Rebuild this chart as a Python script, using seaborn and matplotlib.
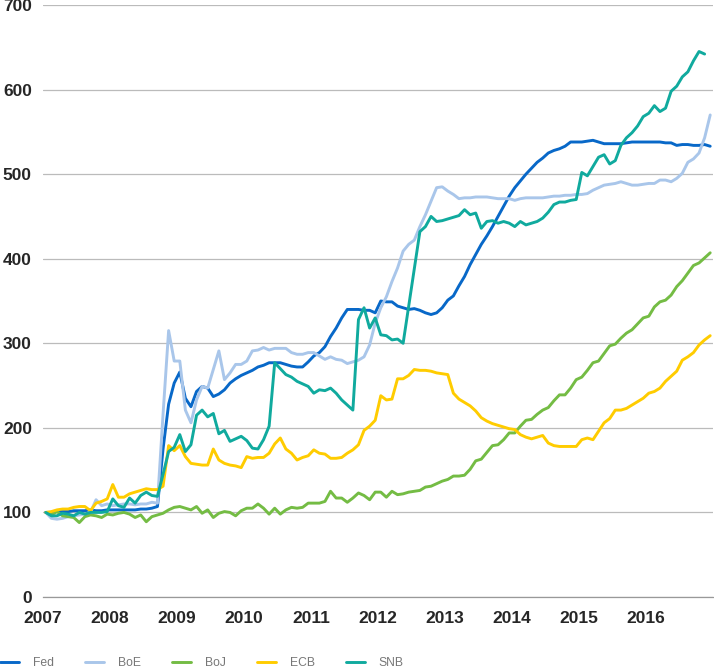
import matplotlib
matplotlib.use("Agg")
import matplotlib.pyplot as plt
import seaborn as sns
import pandas as pd
import numpy as np

# monthly index values, Jan 2007 = 100, one row per year (Jan..Dec)
fed = [100, 100, 101, 101, 101, 102, 102, 102, 103, 102, 102, 103,
       103, 103, 103, 103, 103, 104, 104, 105, 107, 175, 228, 253,
       266, 235, 225, 243, 249, 247, 237, 240, 245, 253, 258, 262,
       265, 268, 272, 274, 277, 277, 277, 275, 273, 272, 272, 278,
       285, 289, 296, 308, 318, 330, 340, 340, 340, 339, 339, 336,
       350, 349, 349, 344, 342, 340, 341, 339, 336, 334, 336, 342,
       351, 356, 368, 379, 393, 405, 417, 427, 438, 450, 462, 474,
       484, 492, 500, 507, 514, 519, 525, 528, 530, 533, 538, 538,
       538, 539, 540, 538, 536, 536, 536, 536, 537, 538, 538, 538,
       538, 538, 538, 537, 537, 534, 535, 535, 534, 534, 535, 533]

boe = [100, 93, 92, 93, 95, 96, 97, 98, 100, 115, 108, 110,
       108, 109, 110, 110, 109, 110, 110, 112, 111, 216, 315, 279,
       279, 221, 206, 233, 249, 247, 269, 291, 257, 265, 275, 275,
       279, 291, 292, 295, 292, 294, 294, 294, 289, 287, 287, 289,
       289, 285, 281, 284, 281, 280, 276, 278, 280, 284, 298, 324,
       342, 355, 373, 389, 409, 417, 422, 438, 452, 468, 484, 485,
       480, 476, 471, 472, 472, 473, 473, 473, 472, 471, 471, 471,
       469, 471, 472, 472, 472, 472, 473, 474, 474, 475, 475, 476,
       476, 477, 481, 484, 487, 488, 489, 491, 489, 487, 487, 488,
       489, 489, 493, 493, 491, 495, 501, 514, 518, 525, 543, 570]

boj = [100, 97, 101, 96, 95, 94, 88, 95, 97, 96, 94, 98,
       97, 99, 100, 98, 94, 97, 89, 95, 97, 99, 103, 106,
       107, 105, 103, 107, 99, 103, 94, 99, 101, 100, 96, 102,
       105, 105, 110, 105, 98, 105, 98, 103, 106, 105, 106, 111,
       111, 111, 113, 125, 117, 117, 112, 117, 123, 120, 115, 124,
       124, 118, 125, 121, 122, 124, 125, 126, 130, 131, 134, 137,
       139, 143, 143, 144, 151, 161, 163, 171, 179, 180, 186, 194,
       194, 202, 209, 210, 216, 221, 224, 232, 239, 239, 247, 257,
       260, 268, 277, 279, 288, 297, 299, 306, 312, 316, 323, 330,
       332, 343, 349, 351, 357, 367, 374, 383, 392, 395, 401, 407]

ecb = [100, 101, 103, 104, 104, 106, 107, 107, 102, 111, 113, 116,
       133, 118, 118, 122, 124, 126, 128, 127, 127, 131, 179, 173,
       179, 166, 158, 157, 156, 156, 175, 162, 158, 156, 155, 153,
       166, 164, 165, 165, 170, 181, 188, 175, 170, 162, 165, 167,
       174, 170, 169, 164, 164, 165, 170, 174, 180, 197, 202, 209,
       238, 233, 234, 258, 258, 262, 269, 268, 268, 267, 265, 264,
       263, 241, 234, 230, 226, 220, 212, 208, 205, 203, 201, 199,
       198, 192, 189, 187, 189, 191, 182, 179, 178, 178, 178, 178,
       186, 188, 186, 196, 206, 211, 221, 221, 223, 227, 231, 235,
       241, 243, 247, 255, 261, 267, 280, 284, 289, 298, 304, 309]

snb = [100, 96, 96, 99, 98, 96, 100, 98, 100, 100, 100, 101,
       116, 108, 106, 117, 111, 120, 124, 120, 119, 145, 172, 177,
       192, 172, 180, 215, 221, 213, 217, 193, 197, 184, 187, 190,
       185, 176, 175, 186, 202, 277, 270, 263, 260, 255, 252, 249,
       241, 245, 244, 247, 241, 233, 227, 221, 328, 342, 318, 330,
       310, 309, 304, 305, 300, 344, 388, 432, 438, 450, 444, 445,
       447, 449, 451, 458, 452, 454, 436, 444, 445, 442, 444, 442,
       438, 444, 440, 442, 444, 448, 455, 464, 467, 467, 469, 470,
       502, 498, 509, 520, 523, 512, 516, 534, 543, 549, 557, 568,
       572, 581, 574, 578, 598, 604, 615, 621, 634, 645, 642, np.nan]

banks = ["Fed", "BoE", "BoJ", "ECB", "SNB"]
colors = ["#0868C8", "#A9C6EA", "#74BC44", "#FFCC00", "#10AA9E"]
years = list(range(2007, 2017))

months = np.arange(120)
t = 2007 + (months + 0.5) / 12

df = pd.concat([pd.DataFrame({"t": t, "value": v, "bank": b})
                for b, v in zip(banks, [fed, boe, boj, ecb, snb])])
df = df.dropna()

sns.set_style("white")
plt.rcParams['font.family'] = ['Liberation Sans', 'DejaVu Sans']

fig = plt.figure(figsize=(7.14, 6.69), dpi=100)
ax = fig.add_axes([43/714, 72/669, 670/714, 592/669])

sns.lineplot(data=df, x="t", y="value", hue="bank", hue_order=banks,
             palette=colors, estimator=None, linewidth=2.1, ax=ax)

ax.set_xlim(2007, 2017)
ax.set_ylim(0, 700)
ax.set_yticks(range(0, 701, 100))
ax.set_xticks(years)
ax.set_xlabel("")
ax.set_ylabel("")
ax.grid(axis="y", color="#BBBBBB", linewidth=0.9)
ax.grid(axis="x", visible=False)
ax.set_axisbelow(True)
for s in ["top", "right", "left"]:
    ax.spines[s].set_visible(False)
ax.spines["bottom"].set_color("#999999")
ax.spines["bottom"].set_linewidth(0.9)
ax.tick_params(axis="y", length=0, pad=8, labelsize=12.5)
ax.tick_params(axis="x", length=4, width=0.9, color="#999999", pad=6, labelsize=12.5)
for lab in ax.get_xticklabels() + ax.get_yticklabels():
    lab.set_fontweight("bold")

ax.get_legend().remove()
handles = [plt.Line2D([], [], color=c, linewidth=2.1) for c in colors]
fig.legend(handles, banks, loc="center left", bbox_to_anchor=(0, 5.5/669),
           ncol=5, frameon=False, fontsize=8.7, handlelength=1.55,
           handletextpad=1.15, columnspacing=2.6, borderpad=0, borderaxespad=0,
           labelcolor="#777777")

fig.savefig("out.png", dpi=100)
